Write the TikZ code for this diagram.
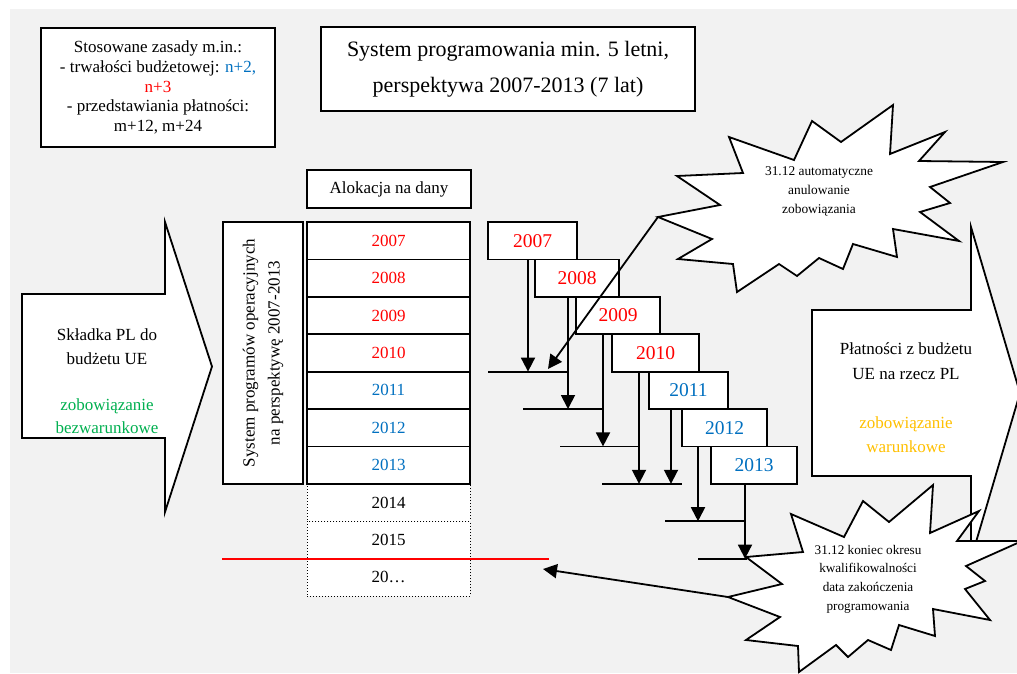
\documentclass[tikz,border=0pt]{standalone}
\usepackage{fontspec}
\setmainfont{Liberation Serif}
\usetikzlibrary{arrows.meta}
\definecolor{bgg}{HTML}{F2F2F2}
\definecolor{cred}{HTML}{FF0000}
\definecolor{cblue}{HTML}{0070C0}
\definecolor{cgreen}{HTML}{00B050}
\definecolor{corange}{HTML}{FFC000}
\begin{document}
\begin{tikzpicture}[x=1pt,y=-1pt,
  box/.style={draw=black,line width=1.8pt,fill=white,inner sep=0pt},
  rowbox/.style={box,minimum width=163pt,minimum height=37.4pt,font=\fontsize{17}{20}\selectfont},
  dotbox/.style={draw=black,line width=1pt,dotted,fill=white,inner sep=0pt,minimum width=163pt,minimum height=37.4pt,font=\fontsize{17}{20}\selectfont},
  stairbox/.style={box,minimum height=37.4pt,font=\fontsize{19.5}{22}\selectfont},
  conn/.style={line width=1.8pt,-{Triangle[width=14pt,length=14pt]}},
  bar/.style={line width=1.8pt},
  shapeout/.style={draw=black,line width=1.8pt,fill=white,line join=miter},
  txt/.style={align=center,inner sep=0pt},
]
\useasboundingbox (0,0) rectangle (1017,673);
\clip (0,0) rectangle (1017,673);
\fill[bgg] (10,9) rectangle (1017,673);

% left big arrow
\draw[shapeout] (22,294) -- (165,294) -- (165,222) -- (212,366.5) -- (165,512) -- (165,438) -- (22,438) -- cycle;
\node[txt,font=\fontsize{17}{23.3}\selectfont] (leftt) at (107,381.5)
  {Składka PL do\\budżetu UE\\[23.3pt]\textcolor{cgreen}{zobowiązanie}\\\textcolor{cgreen}{bezwarunkowe}};

% top boxes
\node[box,minimum width=234pt,minimum height=119pt,align=center,font=\fontsize{17}{19.7}\selectfont] (rules) at (158,87.5)
  {Stosowane zasady m.in.:\\- trwałości budżetowej: \textcolor{cblue}{n+2,}\\\textcolor{cred}{n+3}\\- przedstawiania płatności:\\m+12, m+24};
\node[box,minimum width=374pt,minimum height=84pt,align=center,font=\fontsize{22}{36}\selectfont] (title) at (508,69)
  {System programowania min. 5 letni,\\perspektywa 2007-2013 (7 lat)};
\node[box,minimum width=164pt,minimum height=38pt,font=\fontsize{17}{20}\selectfont] (alok) at (389,189) {Alokacja na dany};

% vertical box
\node[box,rotate=90,minimum width=262pt,minimum height=80pt,align=center,font=\fontsize{17}{25}\selectfont] (sysbox) at (263,353)
  {System programów operacyjnych\\na perspektywę 2007-2013};

% column of years
\node[dotbox] (row8) at (388.5,502.5) {2014};
\node[dotbox] (row9) at (388.5,539.9) {2015};
\node[dotbox] (row10) at (388.5,577.3) {20…};
\node[rowbox] (row1) at (388.5,240.7) {\textcolor{cred}{2007}};
\node[rowbox] (row2) at (388.5,278.1) {\textcolor{cred}{2008}};
\node[rowbox] (row3) at (388.5,315.5) {\textcolor{cred}{2009}};
\node[rowbox] (row4) at (388.5,352.9) {\textcolor{cred}{2010}};
\node[rowbox] (row5) at (388.5,390.3) {\textcolor{cblue}{2011}};
\node[rowbox] (row6) at (388.5,427.7) {\textcolor{cblue}{2012}};
\node[rowbox] (row7) at (388.5,465.1) {\textcolor{cblue}{2013}};
\draw[cred,line width=1.8pt] (222,558.6) -- (549,558.6);

% right big arrow
\draw[shapeout] (812,310) -- (971,310) -- (971,227) -- (1020,393) -- (971,559) -- (971,476) -- (812,476) -- cycle;
\node[txt,font=\fontsize{17}{24.5}\selectfont] (rightt) at (906,398)
  {Płatności z budżetu\\UE na rzecz PL\\[24.5pt]\textcolor{corange}{zobowiązanie}\\\textcolor{corange}{warunkowe}};

% staircase
\node[stairbox,minimum width=89pt] (s2007) at (532.5,240.7) {\textcolor{cred}{2007}};
\node[stairbox,minimum width=84pt] (s2008) at (577,278.1) {\textcolor{cred}{2008}};
\node[stairbox,minimum width=84pt] (s2009) at (618,315.5) {\textcolor{cred}{2009}};
\node[stairbox,minimum width=87pt] (s2010) at (655.5,352.9) {\textcolor{cred}{2010}};
\node[stairbox,minimum width=79pt] (s2011) at (688.5,390.3) {\textcolor{cblue}{2011}};
\node[stairbox,minimum width=85pt] (s2012) at (724.5,427.7) {\textcolor{cblue}{2012}};
\node[stairbox,minimum width=86pt] (s2013) at (754,465.1) {\textcolor{cblue}{2013}};

\coordinate (t1) at (528,371.6);
\coordinate (t2) at (568,409);
\coordinate (t3) at (603,446.4);
\coordinate (t4a) at (639,483.8);
\coordinate (t4b) at (671,483.8);
\coordinate (t5) at (698,521.2);
\coordinate (t6) at (745,558.6);

\draw[bar] (488,371.6) -- (568,371.6);
\draw[bar] (523,409) -- (603,409);
\draw[bar] (560,446.4) -- (639,446.4);
\draw[bar] (602,483.8) -- (682,483.8);
\draw[bar] (665,521.2) -- (745,521.2);
\draw[bar] (698,558.6) -- (747,558.6);

\draw[conn] (t1 |- s2007.south) -- (t1);
\draw[conn] (t2 |- s2008.south) -- (t2);
\draw[conn] (t3 |- s2009.south) -- (t3);
\draw[conn] (t4a |- s2010.south) -- (t4a);
\draw[conn] (t4b |- s2011.south) -- (t4b);
\draw[conn] (t5 |- s2012.south) -- (t5);
\draw[conn] (t6 |- s2013.south) -- (t6);

% top star
\coordinate (st) at (658,217);
\draw[shapeout] (st) -- (720,205) -- (677,176) -- (743,173) -- (729,137) -- (794,160) -- (812,121) -- (841,142) -- (893,105) -- (890,154) -- (945,132) -- (919,161) -- (1003,162) -- (930,187) -- (950,203) -- (920,212) -- (959,241) -- (893,229) -- (897,257) -- (853,244) -- (843,269) -- (819,258) -- (797,276) -- (779,264) -- (737,292) -- (733,264) -- (678,259) -- (712,239) -- cycle;
\node[txt,font=\fontsize{13.4}{19}\selectfont] (stt) at (819,191) {31.12 automatyczne\\anulowanie\\zobowiązania};
\coordinate (stend) at (548,369);
\draw[conn] (st) -- (stend);

% bottom star
\coordinate (sb) at (728,597);
\draw[shapeout] (746,557) -- (803,552) -- (791,514) -- (844,537) -- (863,501) -- (889,522) -- (933,485) -- (930,533) -- (979,511) -- (957,541) -- (1022,541) -- (966,566) -- (985,581) -- (965,589) -- (990,620) -- (933,609) -- (935,636) -- (899,625) -- (891,650) -- (868,640) -- (848,657) -- (836,645) -- (799,672) -- (798,646) -- (746,640) -- (780,617) -- (sb) -- (782,584) -- cycle;
\node[txt,font=\fontsize{13.2}{18.7}\selectfont] (sbt) at (868,579) {31.12 koniec okresu\\kwalifikowalności\\data zakończenia\\programowania};
\coordinate (sbend) at (543,569);
\draw[conn] (sb) -- (sbend);
\end{tikzpicture}
\end{document}
